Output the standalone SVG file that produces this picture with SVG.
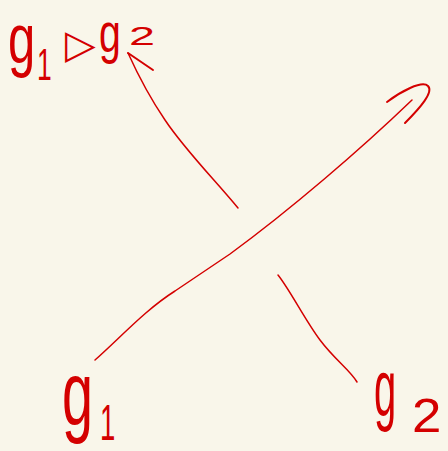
<svg xmlns="http://www.w3.org/2000/svg" width="448" height="451" viewBox="0 0 448 451">
<style>
.t{font-family:"Liberation Sans","DejaVu Sans",sans-serif;fill:#d40000;}
.s{fill:none;stroke:#d40000;stroke-width:1.5;stroke-linecap:round;stroke-linejoin:round;}
.a{fill:none;stroke:#d40000;stroke-width:2;stroke-linecap:round;}
</style>
<rect width="448" height="451" fill="#f9f6ea"/>
<g id="connectors">
<path class="s" d="M95,360 C120,338 145,310 175,291 L230,254 C290,210 360,150 412,100"/>
<path class="a" d="M405,123 C420,108 434,92 428,86 C422,80 400,92 387,102"/>
<path class="s" d="M278,275 C290,290 305,320 320,340 C335,360 350,370 357,382"/>
<path class="s" d="M238,208 C215,180 185,150 165,120 C150,98 138,75 128,53"/>
<path class="a" d="M128,53 L153,70"/>
</g>
<g id="label-top">
<text class="t" font-size="70" transform="translate(8,63) scale(0.7,1)">g</text>
<text class="t" font-size="44" transform="translate(37,80) scale(0.6,1)">1</text>
<text class="t" font-size="40" style="font-family:'DejaVu Sans',sans-serif" x="65" y="58">▷</text>
<text class="t" font-size="56" transform="translate(99,52) scale(0.7,1)">g</text>
<text class="t" font-size="26" transform="translate(129,45) scale(1.8,1)">2</text>
</g>
<g id="label-g1">
<text class="t" font-size="90" transform="translate(62,425) scale(0.62,1)">g</text>
<text class="t" font-size="50" transform="translate(100,440) scale(0.55,1)">1</text>
</g>
<g id="label-g2">
<text class="t" font-size="80" transform="translate(374,415) scale(0.5,1)">g</text>
<text class="t" font-size="48" transform="translate(412,432) scale(1.1,1)">2</text>
</g>
</svg>
